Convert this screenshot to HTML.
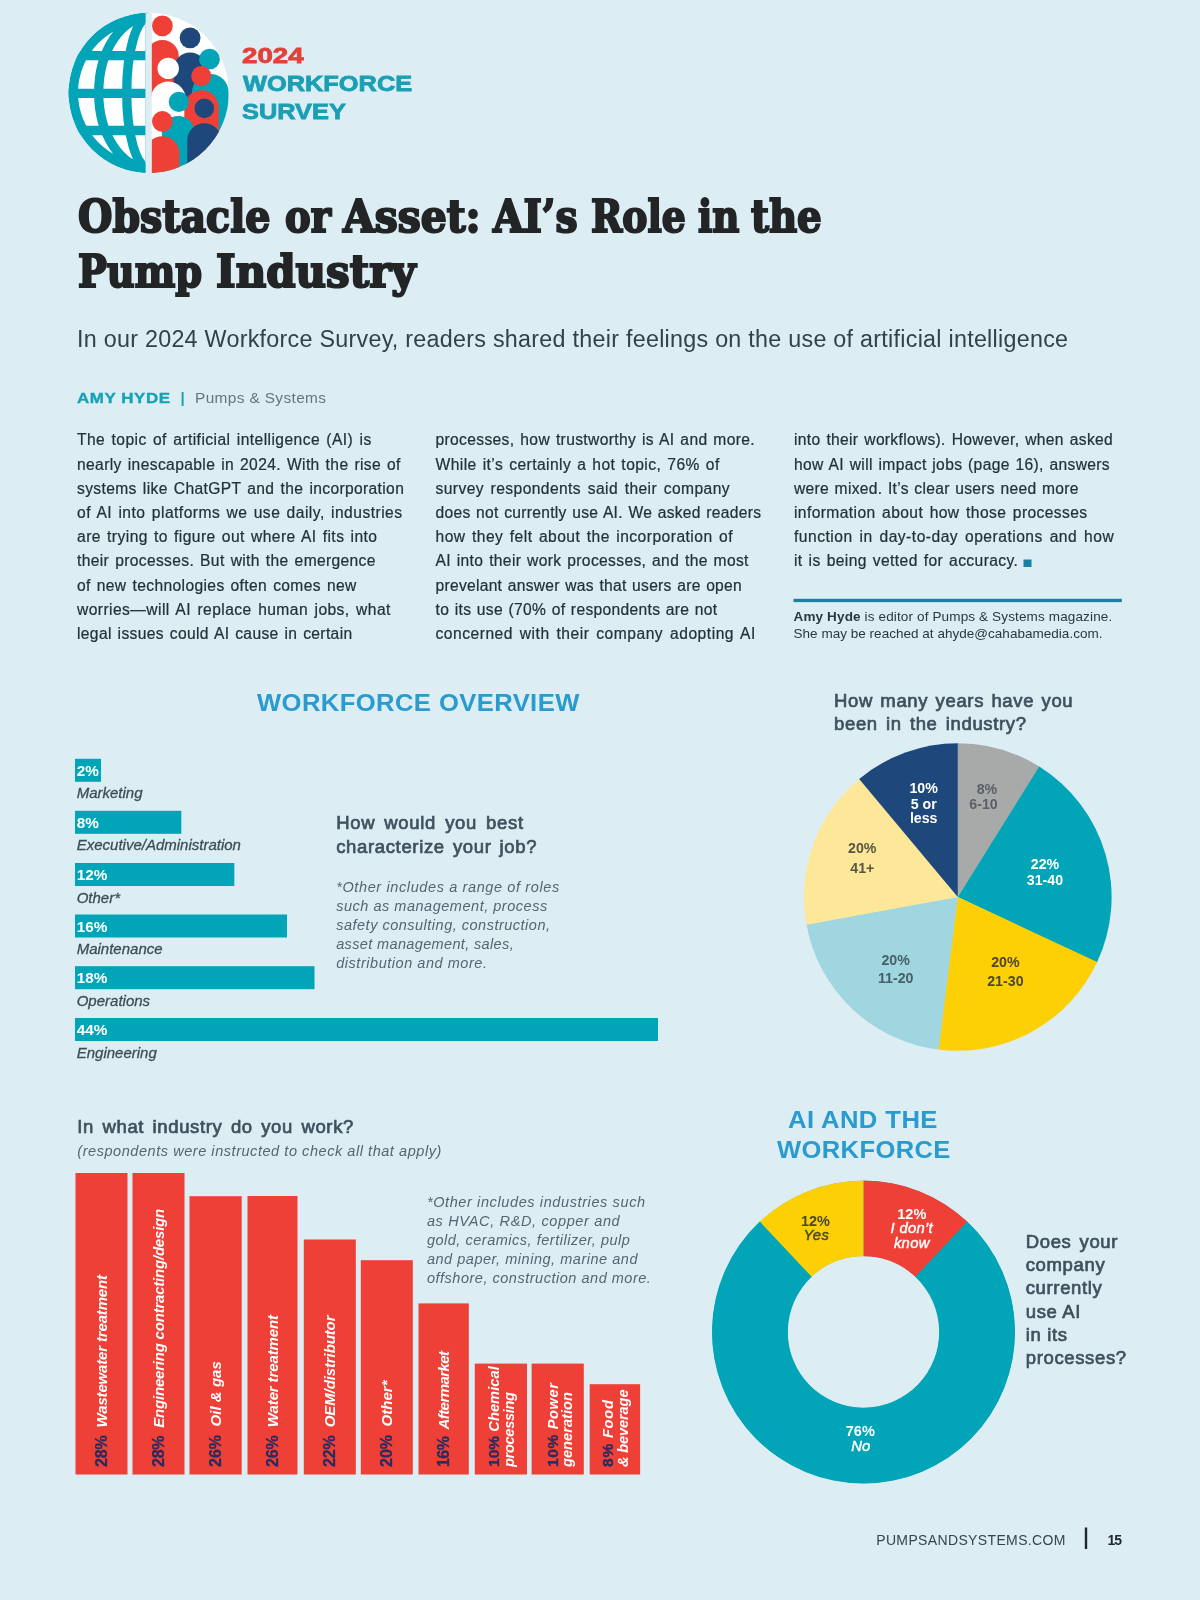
<!DOCTYPE html>
<html lang="en"><head><meta charset="utf-8"><title>Obstacle or Asset: AI’s Role in the Pump Industry</title>
<style>
html,body{margin:0;padding:0}
body{width:1200px;height:1600px;background:#dcedf3;position:relative;overflow:hidden;font-family:"Liberation Sans", sans-serif}
svg{position:absolute;left:0;top:0}
</style></head><body>
<svg width="1200" height="1600" viewBox="0 0 1200 1600">
<defs><clipPath id="cl"><path d="M145.3 12.6 H148.7 A80.2 80.2 0 0 0 148.7 173.0 H145.3 Z"/></clipPath><clipPath id="cr"><path d="M151.8 12.6 H148.7 A80.2 80.2 0 0 1 148.7 173.0 H151.8 Z"/></clipPath></defs>
<g clip-path="url(#cl)"><circle cx="148.7" cy="92.8" r="80.2" fill="#02a5b7"/><circle cx="148.7" cy="92.8" r="70.7" fill="#fff"/><g fill="none" stroke="#02a5b7" stroke-width="9.3"><ellipse cx="148.7" cy="92.8" rx="50" ry="75.5"/><ellipse cx="148.7" cy="92.8" rx="22" ry="75.5"/><path d="M60 55.6H160M60 93.3H160M60 130.5H160"/></g></g>
<g clip-path="url(#cr)"><rect x="140" y="0" width="100" height="190" fill="#fff"/><path d="M146.0 96 V56.4 A16.4 16.4 0 0 1 178.8 56.4 V96 Z" fill="#ee4036"/><circle cx="162.4" cy="25.8" r="10.4" fill="#ee4036"/><path d="M173.7 120 V69.0 A16.4 16.4 0 0 1 206.5 69.0 V120 Z" fill="#1e487b"/><circle cx="190.1" cy="37.8" r="10.4" fill="#1e487b"/><path d="M150.6 150 V99.2 A17.6 17.6 0 0 1 185.8 99.2 V150 Z" fill="#fff"/><circle cx="168.2" cy="68.4" r="10.7" fill="#fff"/><circle cx="209.5" cy="59.2" r="10.4" fill="#02a5b7"/><path d="M192.0 180 V92.2 A18.3 18.3 0 0 1 228.6 92.2 V180 Z" fill="#02a5b7"/><path d="M184.3 180 V107.5 A17.2 17.2 0 0 1 218.7 107.5 V180 Z" fill="#ee4036"/><circle cx="201.3" cy="76.1" r="10.1" fill="#ee4036"/><path d="M161.9 180 V132.4 A16.4 16.4 0 0 1 194.7 132.4 V180 Z" fill="#02a5b7"/><circle cx="178.8" cy="101.8" r="10.1" fill="#02a5b7"/><circle cx="204.3" cy="108.4" r="9.8" fill="#1e487b"/><path d="M187.3 180 V140.2 A17 17 0 0 1 221.3 140.2 V180 Z" fill="#1e487b"/><circle cx="162.4" cy="121.5" r="10.4" fill="#ee4036"/><path d="M145.4 180 V153.3 A17 17 0 0 1 179.4 153.3 V180 Z" fill="#ee4036"/></g>
<rect x="1023.5" y="559.5" width="8" height="7.5" fill="#1b7ea3"/>
<rect x="793.5" y="598.8" width="328.3" height="3.3" fill="#1b7ea3"/>
<rect x="75" y="758.8" width="26" height="23" fill="#02a5b7"/>
<rect x="75" y="810.8" width="106.3" height="23" fill="#02a5b7"/>
<rect x="75" y="863" width="159.3" height="23" fill="#02a5b7"/>
<rect x="75" y="914.5" width="212" height="23" fill="#02a5b7"/>
<rect x="75" y="966.2" width="239.5" height="23" fill="#02a5b7"/>
<rect x="75" y="1018" width="583" height="23" fill="#02a5b7"/>
<path d="M957.8 897 L957.80 743.20 A153.8 153.8 0 0 1 1040.44 767.29 Z" fill="#a8a9a9"/>
<path d="M957.8 897 L1039.30 766.57 A153.8 153.8 0 0 1 1096.62 963.21 Z" fill="#02a5b7"/>
<path d="M957.8 897 L1097.19 962.00 A153.8 153.8 0 0 1 937.46 1049.45 Z" fill="#fdd006"/>
<path d="M957.8 897 L938.79 1049.62 A153.8 153.8 0 0 1 806.29 923.44 Z" fill="#9fd6e0"/>
<path d="M957.8 897 L806.53 924.76 A153.8 153.8 0 0 1 860.18 778.15 Z" fill="#fde89a"/>
<path d="M957.8 897 L859.15 779.01 A153.8 153.8 0 0 1 957.80 743.20 Z" fill="#1e487b"/>
<rect x="75.5" y="1173" width="52.0" height="301.5" fill="#ee4036"/>
<rect x="132.5" y="1173" width="52.0" height="301.5" fill="#ee4036"/>
<rect x="189.5" y="1196.2" width="52.2" height="278.3" fill="#ee4036"/>
<rect x="247.5" y="1196" width="50.0" height="278.5" fill="#ee4036"/>
<rect x="303.8" y="1239.5" width="52.0" height="235.0" fill="#ee4036"/>
<rect x="360.8" y="1260.2" width="52.0" height="214.3" fill="#ee4036"/>
<rect x="418.5" y="1303.4" width="50.3" height="171.1" fill="#ee4036"/>
<rect x="474.8" y="1363.6" width="52.2" height="110.9" fill="#ee4036"/>
<rect x="531.6" y="1363.6" width="52.2" height="110.9" fill="#ee4036"/>
<rect x="589.7" y="1384.2" width="50.4" height="90.3" fill="#ee4036"/>
<circle cx="863.5" cy="1332" r="113.6" fill="none" stroke="#02a5b7" stroke-width="75.2"/>
<path d="M915.32 1276.82 L967.21 1221.56 A151.5 151.5 0 1 1 759.79 1221.56 L811.68 1276.82 A75.7 75.7 0 1 0 915.32 1276.82 Z" fill="#02a5b7"/>
<path d="M863.50 1256.30 L863.50 1180.50 A151.5 151.5 0 0 1 967.21 1221.56 L915.32 1276.82 A75.7 75.7 0 0 0 863.50 1256.30 Z" fill="#ee4036"/>
<path d="M811.68 1276.82 L759.79 1221.56 A151.5 151.5 0 0 1 863.50 1180.50 L863.50 1256.30 A75.7 75.7 0 0 0 811.68 1276.82 Z" fill="#fdd006"/>
<rect x="1084.8" y="1527.5" width="2.4" height="21.5" fill="#1d282e"/>
</svg>
<div style="position:absolute;left:0;top:0;width:1200px;height:1600px;will-change:transform">
<div style='position:absolute;white-space:nowrap;line-height:22px;font-size:22px;font-family:"Liberation Sans", sans-serif;font-weight:bold;color:#e2423a;top:44.68px;transform:scaleX(1.2583);transform-origin:0 0;left:241.70px;-webkit-text-stroke:0.8px currentColor;'>2024</div>
<div style='position:absolute;white-space:nowrap;line-height:22px;font-size:22px;font-family:"Liberation Sans", sans-serif;font-weight:bold;color:#1a9fb4;top:72.68px;transform:scaleX(1.1537);transform-origin:0 0;left:242.50px;-webkit-text-stroke:0.8px currentColor;'>WORKFORCE</div>
<div style='position:absolute;white-space:nowrap;line-height:22px;font-size:22px;font-family:"Liberation Sans", sans-serif;font-weight:bold;color:#1a9fb4;top:101.38px;transform:scaleX(1.1523);transform-origin:0 0;left:242.00px;-webkit-text-stroke:0.8px currentColor;'>SURVEY</div>
<div style='position:absolute;white-space:nowrap;line-height:45px;font-size:45px;font-family:"DejaVu Serif Condensed", "DejaVu Serif", "Liberation Serif", serif;font-weight:bold;color:#222426;top:193.93px;transform:scaleX(0.9758);transform-origin:0 0;left:77.70px;-webkit-text-stroke:2px currentColor;'>Obstacle</div>
<div style='position:absolute;white-space:nowrap;line-height:45px;font-size:45px;font-family:"DejaVu Serif Condensed", "DejaVu Serif", "Liberation Serif", serif;font-weight:bold;color:#222426;top:193.93px;transform:scaleX(0.9495);transform-origin:0 0;left:285.40px;-webkit-text-stroke:2px currentColor;'>or</div>
<div style='position:absolute;white-space:nowrap;line-height:45px;font-size:45px;font-family:"DejaVu Serif Condensed", "DejaVu Serif", "Liberation Serif", serif;font-weight:bold;color:#222426;top:193.93px;transform:scaleX(1.0089);transform-origin:0 0;left:342.70px;-webkit-text-stroke:2px currentColor;'>Asset:</div>
<div style='position:absolute;white-space:nowrap;line-height:45px;font-size:45px;font-family:"DejaVu Serif Condensed", "DejaVu Serif", "Liberation Serif", serif;font-weight:bold;color:#222426;top:193.93px;transform:scaleX(0.9698);transform-origin:0 0;left:493.40px;-webkit-text-stroke:2px currentColor;'>AI’s</div>
<div style='position:absolute;white-space:nowrap;line-height:45px;font-size:45px;font-family:"DejaVu Serif Condensed", "DejaVu Serif", "Liberation Serif", serif;font-weight:bold;color:#222426;top:193.93px;transform:scaleX(0.9304);transform-origin:0 0;left:591.00px;-webkit-text-stroke:2px currentColor;'>Role</div>
<div style='position:absolute;white-space:nowrap;line-height:45px;font-size:45px;font-family:"DejaVu Serif Condensed", "DejaVu Serif", "Liberation Serif", serif;font-weight:bold;color:#222426;top:193.93px;transform:scaleX(0.9213);transform-origin:0 0;left:697.70px;-webkit-text-stroke:2px currentColor;'>in</div>
<div style='position:absolute;white-space:nowrap;line-height:45px;font-size:45px;font-family:"DejaVu Serif Condensed", "DejaVu Serif", "Liberation Serif", serif;font-weight:bold;color:#222426;top:193.93px;transform:scaleX(0.9566);transform-origin:0 0;left:751.00px;-webkit-text-stroke:2px currentColor;'>the</div>
<div style='position:absolute;white-space:nowrap;line-height:45px;font-size:45px;font-family:"DejaVu Serif Condensed", "DejaVu Serif", "Liberation Serif", serif;font-weight:bold;color:#222426;top:248.63px;transform:scaleX(0.9470);transform-origin:0 0;left:78.20px;-webkit-text-stroke:2px currentColor;'>Pump</div>
<div style='position:absolute;white-space:nowrap;line-height:45px;font-size:45px;font-family:"DejaVu Serif Condensed", "DejaVu Serif", "Liberation Serif", serif;font-weight:bold;color:#222426;top:248.63px;transform:scaleX(1.0375);transform-origin:0 0;left:216.00px;-webkit-text-stroke:2px currentColor;'>Industry</div>
<div style='position:absolute;white-space:nowrap;line-height:23.3px;font-size:23.3px;font-family:"Liberation Sans", sans-serif;color:#33414b;letter-spacing:0.269px;top:327.58px;left:77.00px;'>In our 2024 Workforce Survey, readers shared their feelings on the use of artificial intelligence</div>
<div style='position:absolute;white-space:nowrap;line-height:15.4px;font-size:15.4px;font-family:"Liberation Sans", sans-serif;font-weight:bold;color:#16a2b4;letter-spacing:0.500px;top:390.26px;transform:scaleX(1.1010);transform-origin:0 0;left:76.70px;-webkit-text-stroke:0.35px currentColor;'>AMY HYDE</div>
<div style='position:absolute;white-space:nowrap;line-height:15px;font-size:15px;font-family:"Liberation Sans", sans-serif;font-weight:bold;color:#16a2b4;top:390.10px;left:180.50px;'>|</div>
<div style='position:absolute;white-space:nowrap;line-height:15.4px;font-size:15.4px;font-family:"Liberation Sans", sans-serif;color:#68757f;letter-spacing:0.376px;top:390.26px;left:195.00px;'>Pumps &amp; Systems</div>
<div style='position:absolute;white-space:nowrap;line-height:15.6px;font-size:15.6px;font-family:"Liberation Sans", sans-serif;color:#23313b;letter-spacing:0.433px;top:432.39px;left:77.00px;width:294.70px;text-align:justify;text-align-last:justify;-webkit-text-stroke:0.22px currentColor;'>The topic of artificial intelligence (AI) is</div>
<div style='position:absolute;white-space:nowrap;line-height:15.6px;font-size:15.6px;font-family:"Liberation Sans", sans-serif;color:#23313b;letter-spacing:0.387px;top:456.59px;left:77.00px;width:323.80px;text-align:justify;text-align-last:justify;-webkit-text-stroke:0.22px currentColor;'>nearly inescapable in 2024. With the rise of</div>
<div style='position:absolute;white-space:nowrap;line-height:15.6px;font-size:15.6px;font-family:"Liberation Sans", sans-serif;color:#23313b;letter-spacing:0.355px;top:480.79px;left:77.00px;width:327.20px;text-align:justify;text-align-last:justify;-webkit-text-stroke:0.22px currentColor;'>systems like ChatGPT and the incorporation</div>
<div style='position:absolute;white-space:nowrap;line-height:15.6px;font-size:15.6px;font-family:"Liberation Sans", sans-serif;color:#23313b;letter-spacing:0.472px;top:504.99px;left:77.00px;width:325.50px;text-align:justify;text-align-last:justify;-webkit-text-stroke:0.22px currentColor;'>of AI into platforms we use daily, industries</div>
<div style='position:absolute;white-space:nowrap;line-height:15.6px;font-size:15.6px;font-family:"Liberation Sans", sans-serif;color:#23313b;letter-spacing:0.465px;top:529.19px;left:77.00px;width:300.50px;text-align:justify;text-align-last:justify;-webkit-text-stroke:0.22px currentColor;'>are trying to figure out where AI fits into</div>
<div style='position:absolute;white-space:nowrap;line-height:15.6px;font-size:15.6px;font-family:"Liberation Sans", sans-serif;color:#23313b;letter-spacing:0.352px;top:553.39px;left:77.00px;width:298.80px;text-align:justify;text-align-last:justify;-webkit-text-stroke:0.22px currentColor;'>their processes. But with the emergence</div>
<div style='position:absolute;white-space:nowrap;line-height:15.6px;font-size:15.6px;font-family:"Liberation Sans", sans-serif;color:#23313b;letter-spacing:0.375px;top:577.59px;left:77.00px;width:279.70px;text-align:justify;text-align-last:justify;-webkit-text-stroke:0.22px currentColor;'>of new technologies often comes new</div>
<div style='position:absolute;white-space:nowrap;line-height:15.6px;font-size:15.6px;font-family:"Liberation Sans", sans-serif;color:#23313b;letter-spacing:0.434px;top:601.79px;left:77.00px;width:313.80px;text-align:justify;text-align-last:justify;-webkit-text-stroke:0.22px currentColor;'>worries—will AI replace human jobs, what</div>
<div style='position:absolute;white-space:nowrap;line-height:15.6px;font-size:15.6px;font-family:"Liberation Sans", sans-serif;color:#23313b;letter-spacing:0.363px;top:625.99px;left:77.00px;width:275.50px;text-align:justify;text-align-last:justify;-webkit-text-stroke:0.22px currentColor;'>legal issues could AI cause in certain</div>
<div style='position:absolute;white-space:nowrap;line-height:15.6px;font-size:15.6px;font-family:"Liberation Sans", sans-serif;color:#23313b;letter-spacing:0.352px;top:432.39px;left:435.50px;width:319.50px;text-align:justify;text-align-last:justify;-webkit-text-stroke:0.22px currentColor;'>processes, how trustworthy is AI and more.</div>
<div style='position:absolute;white-space:nowrap;line-height:15.6px;font-size:15.6px;font-family:"Liberation Sans", sans-serif;color:#23313b;letter-spacing:0.437px;top:456.59px;left:435.50px;width:284.20px;text-align:justify;text-align-last:justify;-webkit-text-stroke:0.22px currentColor;'>While it’s certainly a hot topic, 76% of</div>
<div style='position:absolute;white-space:nowrap;line-height:15.6px;font-size:15.6px;font-family:"Liberation Sans", sans-serif;color:#23313b;letter-spacing:0.419px;top:480.79px;left:435.50px;width:294.50px;text-align:justify;text-align-last:justify;-webkit-text-stroke:0.22px currentColor;'>survey respondents said their company</div>
<div style='position:absolute;white-space:nowrap;line-height:15.6px;font-size:15.6px;font-family:"Liberation Sans", sans-serif;color:#23313b;letter-spacing:0.298px;top:504.99px;left:435.50px;width:325.80px;text-align:justify;text-align-last:justify;-webkit-text-stroke:0.22px currentColor;'>does not currently use AI. We asked readers</div>
<div style='position:absolute;white-space:nowrap;line-height:15.6px;font-size:15.6px;font-family:"Liberation Sans", sans-serif;color:#23313b;letter-spacing:0.479px;top:529.19px;left:435.50px;width:297.50px;text-align:justify;text-align-last:justify;-webkit-text-stroke:0.22px currentColor;'>how they felt about the incorporation of</div>
<div style='position:absolute;white-space:nowrap;line-height:15.6px;font-size:15.6px;font-family:"Liberation Sans", sans-serif;color:#23313b;letter-spacing:0.364px;top:553.39px;left:435.50px;width:313.30px;text-align:justify;text-align-last:justify;-webkit-text-stroke:0.22px currentColor;'>AI into their work processes, and the most</div>
<div style='position:absolute;white-space:nowrap;line-height:15.6px;font-size:15.6px;font-family:"Liberation Sans", sans-serif;color:#23313b;letter-spacing:0.283px;top:577.59px;left:435.50px;width:306.50px;text-align:justify;text-align-last:justify;-webkit-text-stroke:0.22px currentColor;'>prevelant answer was that users are open</div>
<div style='position:absolute;white-space:nowrap;line-height:15.6px;font-size:15.6px;font-family:"Liberation Sans", sans-serif;color:#23313b;letter-spacing:0.324px;top:601.79px;left:435.50px;width:282.00px;text-align:justify;text-align-last:justify;-webkit-text-stroke:0.22px currentColor;'>to its use (70% of respondents are not</div>
<div style='position:absolute;white-space:nowrap;line-height:15.6px;font-size:15.6px;font-family:"Liberation Sans", sans-serif;color:#23313b;letter-spacing:0.513px;top:625.99px;left:435.50px;width:320.30px;text-align:justify;text-align-last:justify;-webkit-text-stroke:0.22px currentColor;'>concerned with their company adopting AI</div>
<div style='position:absolute;white-space:nowrap;line-height:15.6px;font-size:15.6px;font-family:"Liberation Sans", sans-serif;color:#23313b;letter-spacing:0.317px;top:432.39px;left:794.00px;width:319.00px;text-align:justify;text-align-last:justify;-webkit-text-stroke:0.22px currentColor;'>into their workflows). However, when asked</div>
<div style='position:absolute;white-space:nowrap;line-height:15.6px;font-size:15.6px;font-family:"Liberation Sans", sans-serif;color:#23313b;letter-spacing:0.352px;top:456.59px;left:794.00px;width:316.00px;text-align:justify;text-align-last:justify;-webkit-text-stroke:0.22px currentColor;'>how AI will impact jobs (page 16), answers</div>
<div style='position:absolute;white-space:nowrap;line-height:15.6px;font-size:15.6px;font-family:"Liberation Sans", sans-serif;color:#23313b;letter-spacing:0.302px;top:480.79px;left:794.00px;width:284.70px;text-align:justify;text-align-last:justify;-webkit-text-stroke:0.22px currentColor;'>were mixed. It’s clear users need more</div>
<div style='position:absolute;white-space:nowrap;line-height:15.6px;font-size:15.6px;font-family:"Liberation Sans", sans-serif;color:#23313b;letter-spacing:0.400px;top:504.99px;left:794.00px;width:293.50px;text-align:justify;text-align-last:justify;-webkit-text-stroke:0.22px currentColor;'>information about how those processes</div>
<div style='position:absolute;white-space:nowrap;line-height:15.6px;font-size:15.6px;font-family:"Liberation Sans", sans-serif;color:#23313b;letter-spacing:0.498px;top:529.19px;left:794.00px;width:320.20px;text-align:justify;text-align-last:justify;-webkit-text-stroke:0.22px currentColor;'>function in day-to-day operations and how</div>
<div style='position:absolute;white-space:nowrap;line-height:15.6px;font-size:15.6px;font-family:"Liberation Sans", sans-serif;color:#23313b;letter-spacing:0.402px;top:553.39px;left:794.00px;width:224.30px;text-align:justify;text-align-last:justify;-webkit-text-stroke:0.22px currentColor;'>it is being vetted for accuracy.</div>
<div style='position:absolute;white-space:nowrap;line-height:13.5px;font-size:13.5px;font-family:"Liberation Sans", sans-serif;color:#2b3841;letter-spacing:0.143px;top:609.77px;left:793.50px;'><b>Amy Hyde</b> is editor of Pumps &amp; Systems magazine.</div>
<div style='position:absolute;white-space:nowrap;line-height:13.5px;font-size:13.5px;font-family:"Liberation Sans", sans-serif;color:#2b3841;letter-spacing:0.026px;top:627.37px;left:793.50px;'>She may be reached at ahyde@cahabamedia.com.</div>
<div style='position:absolute;white-space:nowrap;line-height:24.5px;font-size:24.5px;font-family:"Liberation Sans", sans-serif;font-weight:bold;color:#2a9bce;letter-spacing:0.400px;top:690.96px;transform:scaleX(1.0446);transform-origin:0 0;left:256.70px;'>WORKFORCE OVERVIEW</div>
<div style='position:absolute;white-space:nowrap;line-height:15.3px;font-size:15.3px;font-family:"Liberation Sans", sans-serif;font-weight:bold;color:#fff;top:762.85px;left:76.80px;'>2%</div>
<div style='position:absolute;white-space:nowrap;line-height:15px;font-size:15px;font-family:"Liberation Sans", sans-serif;font-style:italic;color:#3f4c57;top:785.40px;left:76.70px;-webkit-text-stroke:0.3px currentColor;'>Marketing</div>
<div style='position:absolute;white-space:nowrap;line-height:15.3px;font-size:15.3px;font-family:"Liberation Sans", sans-serif;font-weight:bold;color:#fff;top:814.85px;left:76.80px;'>8%</div>
<div style='position:absolute;white-space:nowrap;line-height:15px;font-size:15px;font-family:"Liberation Sans", sans-serif;font-style:italic;color:#3f4c57;top:837.40px;left:76.70px;-webkit-text-stroke:0.3px currentColor;'>Executive/Administration</div>
<div style='position:absolute;white-space:nowrap;line-height:15.3px;font-size:15.3px;font-family:"Liberation Sans", sans-serif;font-weight:bold;color:#fff;top:867.05px;left:76.80px;'>12%</div>
<div style='position:absolute;white-space:nowrap;line-height:15px;font-size:15px;font-family:"Liberation Sans", sans-serif;font-style:italic;color:#3f4c57;top:889.60px;left:76.70px;-webkit-text-stroke:0.3px currentColor;'>Other*</div>
<div style='position:absolute;white-space:nowrap;line-height:15.3px;font-size:15.3px;font-family:"Liberation Sans", sans-serif;font-weight:bold;color:#fff;top:918.55px;left:76.80px;'>16%</div>
<div style='position:absolute;white-space:nowrap;line-height:15px;font-size:15px;font-family:"Liberation Sans", sans-serif;font-style:italic;color:#3f4c57;top:941.10px;left:76.70px;-webkit-text-stroke:0.3px currentColor;'>Maintenance</div>
<div style='position:absolute;white-space:nowrap;line-height:15.3px;font-size:15.3px;font-family:"Liberation Sans", sans-serif;font-weight:bold;color:#fff;top:970.25px;left:76.80px;'>18%</div>
<div style='position:absolute;white-space:nowrap;line-height:15px;font-size:15px;font-family:"Liberation Sans", sans-serif;font-style:italic;color:#3f4c57;top:992.80px;left:76.70px;-webkit-text-stroke:0.3px currentColor;'>Operations</div>
<div style='position:absolute;white-space:nowrap;line-height:15.3px;font-size:15.3px;font-family:"Liberation Sans", sans-serif;font-weight:bold;color:#fff;top:1022.05px;left:76.80px;'>44%</div>
<div style='position:absolute;white-space:nowrap;line-height:15px;font-size:15px;font-family:"Liberation Sans", sans-serif;font-style:italic;color:#3f4c57;top:1044.60px;left:76.70px;-webkit-text-stroke:0.3px currentColor;'>Engineering</div>
<div style='position:absolute;white-space:nowrap;line-height:18.5px;font-size:18.5px;font-family:"Liberation Sans", sans-serif;color:#3f515d;letter-spacing:0.650px;top:814.34px;left:336.20px;width:187.50px;text-align:justify;text-align-last:justify;-webkit-text-stroke:0.7px currentColor;'>How would you best</div>
<div style='position:absolute;white-space:nowrap;line-height:18.5px;font-size:18.5px;font-family:"Liberation Sans", sans-serif;color:#3f515d;letter-spacing:0.650px;top:837.54px;left:336.20px;width:201.00px;text-align:justify;text-align-last:justify;-webkit-text-stroke:0.7px currentColor;'>characterize your job?</div>
<div style='position:absolute;white-space:nowrap;line-height:14.5px;font-size:14.5px;font-family:"Liberation Sans", sans-serif;font-style:italic;color:#556672;letter-spacing:0.615px;top:879.73px;left:336.20px;'>*Other includes a range of roles</div>
<div style='position:absolute;white-space:nowrap;line-height:14.5px;font-size:14.5px;font-family:"Liberation Sans", sans-serif;font-style:italic;color:#556672;letter-spacing:0.520px;top:898.83px;left:336.20px;'>such as management, process</div>
<div style='position:absolute;white-space:nowrap;line-height:14.5px;font-size:14.5px;font-family:"Liberation Sans", sans-serif;font-style:italic;color:#556672;letter-spacing:0.501px;top:917.93px;left:336.20px;'>safety consulting, construction,</div>
<div style='position:absolute;white-space:nowrap;line-height:14.5px;font-size:14.5px;font-family:"Liberation Sans", sans-serif;font-style:italic;color:#556672;letter-spacing:0.358px;top:937.03px;left:336.20px;'>asset management, sales,</div>
<div style='position:absolute;white-space:nowrap;line-height:14.5px;font-size:14.5px;font-family:"Liberation Sans", sans-serif;font-style:italic;color:#556672;letter-spacing:0.541px;top:956.13px;left:336.20px;'>distribution and more.</div>
<div style='position:absolute;white-space:nowrap;line-height:18.5px;font-size:18.5px;font-family:"Liberation Sans", sans-serif;color:#3f515d;letter-spacing:0.650px;top:692.04px;left:834.00px;width:239.30px;text-align:justify;text-align-last:justify;-webkit-text-stroke:0.7px currentColor;'>How many years have you</div>
<div style='position:absolute;white-space:nowrap;line-height:18.5px;font-size:18.5px;font-family:"Liberation Sans", sans-serif;color:#3f515d;letter-spacing:0.650px;top:715.34px;left:834.00px;width:192.70px;text-align:justify;text-align-last:justify;-webkit-text-stroke:0.7px currentColor;'>been in the industry?</div>
<div style='position:absolute;white-space:nowrap;line-height:14.2px;font-size:14.2px;font-family:"Liberation Sans", sans-serif;font-weight:bold;color:#5a6066;top:781.78px;left:687.00px;width:600px;text-align:center;'>8%</div>
<div style='position:absolute;white-space:nowrap;line-height:14.2px;font-size:14.2px;font-family:"Liberation Sans", sans-serif;font-weight:bold;color:#5a6066;top:796.78px;left:683.50px;width:600px;text-align:center;'>6-10</div>
<div style='position:absolute;white-space:nowrap;line-height:14.2px;font-size:14.2px;font-family:"Liberation Sans", sans-serif;font-weight:bold;color:#fff;top:780.88px;left:623.70px;width:600px;text-align:center;'>10%</div>
<div style='position:absolute;white-space:nowrap;line-height:14.2px;font-size:14.2px;font-family:"Liberation Sans", sans-serif;font-weight:bold;color:#fff;top:796.78px;left:623.70px;width:600px;text-align:center;'>5 or</div>
<div style='position:absolute;white-space:nowrap;line-height:14.2px;font-size:14.2px;font-family:"Liberation Sans", sans-serif;font-weight:bold;color:#fff;top:810.98px;left:623.70px;width:600px;text-align:center;'>less</div>
<div style='position:absolute;white-space:nowrap;line-height:14.2px;font-size:14.2px;font-family:"Liberation Sans", sans-serif;font-weight:bold;color:#fff;top:856.78px;left:745.00px;width:600px;text-align:center;'>22%</div>
<div style='position:absolute;white-space:nowrap;line-height:14.2px;font-size:14.2px;font-family:"Liberation Sans", sans-serif;font-weight:bold;color:#fff;top:873.28px;left:745.00px;width:600px;text-align:center;'>31-40</div>
<div style='position:absolute;white-space:nowrap;line-height:14.2px;font-size:14.2px;font-family:"Liberation Sans", sans-serif;font-weight:bold;color:#4b482c;top:955.48px;left:705.40px;width:600px;text-align:center;'>20%</div>
<div style='position:absolute;white-space:nowrap;line-height:14.2px;font-size:14.2px;font-family:"Liberation Sans", sans-serif;font-weight:bold;color:#4b482c;top:973.58px;left:705.40px;width:600px;text-align:center;'>21-30</div>
<div style='position:absolute;white-space:nowrap;line-height:14.2px;font-size:14.2px;font-family:"Liberation Sans", sans-serif;font-weight:bold;color:#486068;top:952.58px;left:595.70px;width:600px;text-align:center;'>20%</div>
<div style='position:absolute;white-space:nowrap;line-height:14.2px;font-size:14.2px;font-family:"Liberation Sans", sans-serif;font-weight:bold;color:#486068;top:970.78px;left:595.70px;width:600px;text-align:center;'>11-20</div>
<div style='position:absolute;white-space:nowrap;line-height:14.2px;font-size:14.2px;font-family:"Liberation Sans", sans-serif;font-weight:bold;color:#5a5640;top:840.68px;left:562.30px;width:600px;text-align:center;'>20%</div>
<div style='position:absolute;white-space:nowrap;line-height:14.2px;font-size:14.2px;font-family:"Liberation Sans", sans-serif;font-weight:bold;color:#5a5640;top:861.08px;left:562.30px;width:600px;text-align:center;'>41+</div>
<div style='position:absolute;white-space:nowrap;line-height:18.5px;font-size:18.5px;font-family:"Liberation Sans", sans-serif;color:#3f515d;letter-spacing:0.650px;top:1117.64px;left:77.30px;width:276.70px;text-align:justify;text-align-last:justify;-webkit-text-stroke:0.7px currentColor;'>In what industry do you work?</div>
<div style='position:absolute;white-space:nowrap;line-height:14.5px;font-size:14.5px;font-family:"Liberation Sans", sans-serif;font-style:italic;color:#556672;letter-spacing:0.552px;top:1143.73px;left:77.30px;'>(respondents were instructed to check all that apply)</div>
<div style='position:absolute;white-space:nowrap;line-height:15px;font-size:15px;font-family:"Liberation Sans", sans-serif;font-weight:bold;font-style:italic;color:#fff;letter-spacing:-0.166px;left:94.00px;top:1467.20px;transform:rotate(-90deg);transform-origin:0 0;'><span style="color:#2a2b5e;font-style:normal;font-size:16px;-webkit-text-stroke:0.3px #2a2b5e">28%</span>&nbsp;&nbsp;Wastewater treatment</div>
<div style='position:absolute;white-space:nowrap;line-height:15px;font-size:15px;font-family:"Liberation Sans", sans-serif;font-weight:bold;font-style:italic;color:#fff;letter-spacing:-0.211px;left:151.00px;top:1467.20px;transform:rotate(-90deg);transform-origin:0 0;'><span style="color:#2a2b5e;font-style:normal;font-size:16px;-webkit-text-stroke:0.3px #2a2b5e">28%</span>&nbsp;&nbsp;Engineering contracting/design</div>
<div style='position:absolute;white-space:nowrap;line-height:15px;font-size:15px;font-family:"Liberation Sans", sans-serif;font-weight:bold;font-style:italic;color:#fff;letter-spacing:0.031px;left:208.10px;top:1467.20px;transform:rotate(-90deg);transform-origin:0 0;'><span style="color:#2a2b5e;font-style:normal;font-size:16px;-webkit-text-stroke:0.3px #2a2b5e">26%</span>&nbsp;&nbsp;Oil &amp; gas</div>
<div style='position:absolute;white-space:nowrap;line-height:15px;font-size:15px;font-family:"Liberation Sans", sans-serif;font-weight:bold;font-style:italic;color:#fff;letter-spacing:-0.121px;left:265.00px;top:1467.20px;transform:rotate(-90deg);transform-origin:0 0;'><span style="color:#2a2b5e;font-style:normal;font-size:16px;-webkit-text-stroke:0.3px #2a2b5e">26%</span>&nbsp;&nbsp;Water treatment</div>
<div style='position:absolute;white-space:nowrap;line-height:15px;font-size:15px;font-family:"Liberation Sans", sans-serif;font-weight:bold;font-style:italic;color:#fff;letter-spacing:-0.116px;left:322.30px;top:1467.20px;transform:rotate(-90deg);transform-origin:0 0;'><span style="color:#2a2b5e;font-style:normal;font-size:16px;-webkit-text-stroke:0.3px #2a2b5e">22%</span>&nbsp;&nbsp;OEM/distributor</div>
<div style='position:absolute;white-space:nowrap;line-height:15px;font-size:15px;font-family:"Liberation Sans", sans-serif;font-weight:bold;font-style:italic;color:#fff;letter-spacing:0.028px;left:379.30px;top:1467.20px;transform:rotate(-90deg);transform-origin:0 0;'><span style="color:#2a2b5e;font-style:normal;font-size:16px;-webkit-text-stroke:0.3px #2a2b5e">20%</span>&nbsp;&nbsp;Other*</div>
<div style='position:absolute;white-space:nowrap;line-height:15px;font-size:15px;font-family:"Liberation Sans", sans-serif;font-weight:bold;font-style:italic;color:#fff;letter-spacing:-0.572px;left:436.15px;top:1467.20px;transform:rotate(-90deg);transform-origin:0 0;'><span style="color:#2a2b5e;font-style:normal;font-size:16px;-webkit-text-stroke:0.3px #2a2b5e">16%</span>&nbsp;&nbsp;Aftermarket</div>
<div style='position:absolute;white-space:nowrap;line-height:14.6px;font-size:14.6px;font-family:"Liberation Sans", sans-serif;font-weight:bold;font-style:italic;color:#fff;letter-spacing:0.065px;left:486.74px;top:1467.20px;transform:rotate(-90deg);transform-origin:0 0;'><span style="color:#2a2b5e;font-style:normal;font-size:15.5px;-webkit-text-stroke:0.3px #2a2b5e">10%</span>&nbsp;Chemical</div>
<div style='position:absolute;white-space:nowrap;line-height:14.6px;font-size:14.6px;font-family:"Liberation Sans", sans-serif;font-weight:bold;font-style:italic;color:#fff;letter-spacing:-0.318px;left:501.54px;top:1467.20px;transform:rotate(-90deg);transform-origin:0 0;'>processing</div>
<div style='position:absolute;white-space:nowrap;line-height:14.6px;font-size:14.6px;font-family:"Liberation Sans", sans-serif;font-weight:bold;font-style:italic;color:#fff;letter-spacing:0.639px;left:545.64px;top:1467.20px;transform:rotate(-90deg);transform-origin:0 0;'><span style="color:#2a2b5e;font-style:normal;font-size:15.5px;-webkit-text-stroke:0.3px #2a2b5e">10%</span>&nbsp;Power</div>
<div style='position:absolute;white-space:nowrap;line-height:14.6px;font-size:14.6px;font-family:"Liberation Sans", sans-serif;font-weight:bold;font-style:italic;color:#fff;letter-spacing:0.043px;left:560.34px;top:1467.20px;transform:rotate(-90deg);transform-origin:0 0;'>generation</div>
<div style='position:absolute;white-space:nowrap;line-height:14.6px;font-size:14.6px;font-family:"Liberation Sans", sans-serif;font-weight:bold;font-style:italic;color:#fff;letter-spacing:0.812px;left:600.74px;top:1467.20px;transform:rotate(-90deg);transform-origin:0 0;'><span style="color:#2a2b5e;font-style:normal;font-size:15.5px;-webkit-text-stroke:0.3px #2a2b5e">8%</span>&nbsp;Food</div>
<div style='position:absolute;white-space:nowrap;line-height:14.6px;font-size:14.6px;font-family:"Liberation Sans", sans-serif;font-weight:bold;font-style:italic;color:#fff;letter-spacing:-0.132px;left:615.54px;top:1467.20px;transform:rotate(-90deg);transform-origin:0 0;'>&amp; beverage</div>
<div style='position:absolute;white-space:nowrap;line-height:14.5px;font-size:14.5px;font-family:"Liberation Sans", sans-serif;font-style:italic;color:#556672;letter-spacing:0.610px;top:1195.43px;left:426.90px;'>*Other includes industries such</div>
<div style='position:absolute;white-space:nowrap;line-height:14.5px;font-size:14.5px;font-family:"Liberation Sans", sans-serif;font-style:italic;color:#556672;letter-spacing:0.638px;top:1214.36px;left:426.90px;'>as HVAC, R&amp;D, copper and</div>
<div style='position:absolute;white-space:nowrap;line-height:14.5px;font-size:14.5px;font-family:"Liberation Sans", sans-serif;font-style:italic;color:#556672;letter-spacing:0.517px;top:1233.29px;left:426.90px;'>gold, ceramics, fertilizer, pulp</div>
<div style='position:absolute;white-space:nowrap;line-height:14.5px;font-size:14.5px;font-family:"Liberation Sans", sans-serif;font-style:italic;color:#556672;letter-spacing:0.525px;top:1252.22px;left:426.90px;'>and paper, mining, marine and</div>
<div style='position:absolute;white-space:nowrap;line-height:14.5px;font-size:14.5px;font-family:"Liberation Sans", sans-serif;font-style:italic;color:#556672;letter-spacing:0.518px;top:1271.15px;left:426.90px;'>offshore, construction and more.</div>
<div style='position:absolute;white-space:nowrap;line-height:24.5px;font-size:24.5px;font-family:"Liberation Sans", sans-serif;font-weight:bold;color:#2a9bce;letter-spacing:0.400px;top:1107.56px;transform:scaleX(1.0455);transform-origin:0 0;left:788.30px;'>AI AND THE</div>
<div style='position:absolute;white-space:nowrap;line-height:24.5px;font-size:24.5px;font-family:"Liberation Sans", sans-serif;font-weight:bold;color:#2a9bce;letter-spacing:0.400px;top:1138.26px;transform:scaleX(1.0407);transform-origin:0 0;left:776.70px;'>WORKFORCE</div>
<div style='position:absolute;white-space:nowrap;line-height:14.5px;font-size:14.5px;font-family:"Liberation Sans", sans-serif;font-weight:bold;color:#fff;top:1206.73px;left:611.80px;width:600px;text-align:center;'>12%</div>
<div style='position:absolute;white-space:nowrap;line-height:14.8px;font-size:14.8px;font-family:"Liberation Sans", sans-serif;font-style:italic;color:#fff;letter-spacing:0.300px;top:1221.27px;left:611.80px;width:600px;text-align:center;-webkit-text-stroke:0.45px currentColor;'>I don’t</div>
<div style='position:absolute;white-space:nowrap;line-height:14.8px;font-size:14.8px;font-family:"Liberation Sans", sans-serif;font-style:italic;color:#fff;letter-spacing:0.300px;top:1235.87px;left:611.80px;width:600px;text-align:center;-webkit-text-stroke:0.45px currentColor;'>know</div>
<div style='position:absolute;white-space:nowrap;line-height:14.5px;font-size:14.5px;font-family:"Liberation Sans", sans-serif;font-weight:bold;color:#4b482c;top:1213.53px;left:515.50px;width:600px;text-align:center;'>12%</div>
<div style='position:absolute;white-space:nowrap;line-height:14.8px;font-size:14.8px;font-family:"Liberation Sans", sans-serif;font-style:italic;color:#4b482c;letter-spacing:0.300px;top:1228.17px;left:516.30px;width:600px;text-align:center;-webkit-text-stroke:0.45px currentColor;'>Yes</div>
<div style='position:absolute;white-space:nowrap;line-height:14.5px;font-size:14.5px;font-family:"Liberation Sans", sans-serif;font-weight:bold;color:#fff;top:1423.93px;left:560.30px;width:600px;text-align:center;'>76%</div>
<div style='position:absolute;white-space:nowrap;line-height:14.8px;font-size:14.8px;font-family:"Liberation Sans", sans-serif;font-style:italic;color:#fff;letter-spacing:0.300px;top:1438.57px;left:560.90px;width:600px;text-align:center;-webkit-text-stroke:0.45px currentColor;'>No</div>
<div style='position:absolute;white-space:nowrap;line-height:18.5px;font-size:18.5px;font-family:"Liberation Sans", sans-serif;color:#3f515d;letter-spacing:0.650px;top:1232.94px;left:1025.70px;width:92.40px;text-align:justify;text-align-last:justify;-webkit-text-stroke:0.7px currentColor;'>Does your</div>
<div style='position:absolute;white-space:nowrap;line-height:18.5px;font-size:18.5px;font-family:"Liberation Sans", sans-serif;color:#3f515d;letter-spacing:0.650px;top:1256.44px;left:1025.70px;-webkit-text-stroke:0.7px currentColor;'>company</div>
<div style='position:absolute;white-space:nowrap;line-height:18.5px;font-size:18.5px;font-family:"Liberation Sans", sans-serif;color:#3f515d;letter-spacing:0.650px;top:1279.24px;left:1025.70px;-webkit-text-stroke:0.7px currentColor;'>currently</div>
<div style='position:absolute;white-space:nowrap;line-height:18.5px;font-size:18.5px;font-family:"Liberation Sans", sans-serif;color:#3f515d;letter-spacing:0.650px;top:1302.74px;left:1025.70px;-webkit-text-stroke:0.7px currentColor;'>use AI</div>
<div style='position:absolute;white-space:nowrap;line-height:18.5px;font-size:18.5px;font-family:"Liberation Sans", sans-serif;color:#3f515d;letter-spacing:0.650px;top:1325.84px;left:1025.70px;-webkit-text-stroke:0.7px currentColor;'>in its</div>
<div style='position:absolute;white-space:nowrap;line-height:18.5px;font-size:18.5px;font-family:"Liberation Sans", sans-serif;color:#3f515d;letter-spacing:0.650px;top:1348.54px;left:1025.70px;-webkit-text-stroke:0.7px currentColor;'>processes?</div>
<div style='position:absolute;white-space:nowrap;line-height:14px;font-size:14px;font-family:"Liberation Sans", sans-serif;color:#38454e;letter-spacing:0.360px;top:1532.65px;left:876.20px;'>PUMPSANDSYSTEMS.COM</div>
<div style='position:absolute;white-space:nowrap;line-height:14px;font-size:14px;font-family:"Liberation Sans", sans-serif;font-weight:bold;color:#1d282e;letter-spacing:-1.078px;top:1532.65px;left:1107.50px;'>15</div>
</div>
</body></html>
